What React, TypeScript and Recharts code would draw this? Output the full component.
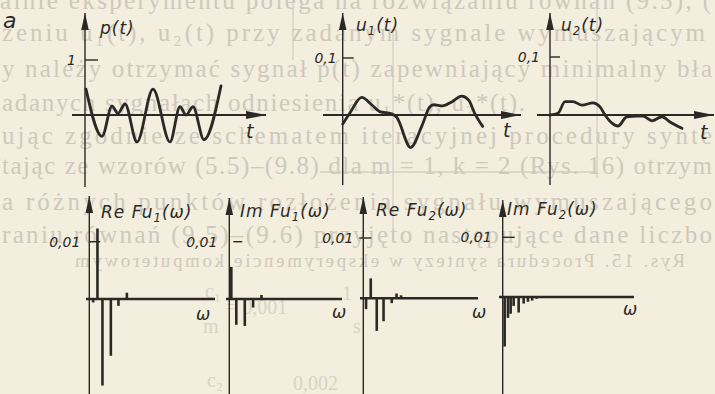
import React from 'react';
import {
  Bar,
  BarChart,
  Line,
  LineChart,
  ReferenceDot,
  ReferenceLine,
  XAxis,
  YAxis,
} from 'recharts';

// top row: time signals, t in arbitrary units (0 at the vertical axis)
const pTime = [0.1, 1.7, 2.7, 3.3, 4.0, 5.2, 6.8, 8.5, 9.5, 10.1, 10.8, 11.9, 13.6];
const pValue = [0.47, -0.39, 0.16, 0.03, 0.2, -0.49, 0.47, -0.49, 0.15, 0.0, 0.15, -0.45, 0.53];

const u1Time = [0, 0.7, 1.9, 2.9, 3.7, 4.9, 5.4, 6.8, 7.9, 8.7, 9.1, 10.0, 10.9, 11.9, 12.6, 13.2, 14.0];
const u1Value = [
  -0.016, 0.003, 0.031, 0.018, 0.006, 0.002, -0.004, -0.057, -0.02, 0.014, 0.018, 0.016, 0.023,
  0.033, 0.026, 0.003, -0.02,
];

const u2Time = [0, 0.8, 1.5, 2.3, 3.2, 4.3, 5.0, 5.5, 6.2, 6.8, 7.7, 8.7, 9.3, 10.2, 11.2, 12.0, 13.2];
const u2Value = [
  0, 0.003, 0.023, 0.023, 0.017, 0.021, 0.014, 0, -0.014, -0.019, -0.003, -0.002, -0.002, -0.01,
  -0.003, -0.012, -0.023,
];

// bottom row: spectra, omega in arbitrary units
const re1Freq = [0.37, 0.8, 1.3, 2.14, 2.9, 3.74];
const re1Value = [-0.0006, 0.0123, -0.0151, -0.0099, -0.0012, 0.0011];

const im1Freq = [0.22, 0.72, 1.57, 2.4, 3.24];
const im1Value = [0.0056, -0.0045, -0.0047, -0.0015, 0.0007];

const re2Freq = [0.27, 0.74, 1.34, 2.02, 2.84, 3.32, 3.77];
const re2Value = [-0.0018, 0.0033, -0.0054, -0.0038, -0.0008, 0.0008, 0.0005];

const im2Freq = [0.2, 0.53, 0.8, 1.1, 1.6, 2.1, 2.53, 2.95, 3.4];
const im2Value = [-0.0083, -0.0035, -0.0028, -0.0015, -0.0026, -0.0011, -0.0008, -0.0006, -0.0003];

// tick labels
const tickP = { value: 1, label: '1' };
const tickU = { value: 0.1, label: '0,1' };
const tickF = { value: 0.01, label: '0,01' };

const PAPER = '#f4eede';
const INK = '#2b2926';
const GHOST = '#cec9bd';
const FONT = '"DejaVu Sans", "Liberation Sans", sans-serif';
const SERIF = '"Liberation Serif", "DejaVu Serif", serif';

const PAD = { top: 4, right: 6, bottom: 4, left: 60 };

interface Frame {
  left: number;
  right: number;
  top: number;
  bottom: number;
  ox: number;
  oy: number;
  sx: number;
  sy: number;
}

// plot boxes in page pixels, origin where the axes cross, px per unit
const frameP: Frame = { left: 72, right: 266, top: 13, bottom: 187, ox: 85, oy: 115, sx: 10, sy: 55 };
const frameU1: Frame = { left: 323, right: 521, top: 13, bottom: 185, ox: 342.7, oy: 115, sx: 10, sy: 570 };
const frameU2: Frame = { left: 537, right: 714, top: 13, bottom: 185, ox: 550, oy: 115, sx: 10, sy: 580 };
const frameR1: Frame = { left: 86, right: 215, top: 196, bottom: 394, ox: 89.3, oy: 299, sx: 10, sy: 5730 };
const frameI1: Frame = { left: 226, right: 342, top: 198, bottom: 394, ox: 229.3, oy: 299, sx: 10, sy: 5730 };
const frameR2: Frame = { left: 360, right: 478, top: 197, bottom: 394, ox: 363.3, oy: 298.3, sx: 10, sy: 6030 };
const frameI2: Frame = { left: 499, right: 634, top: 200, bottom: 394, ox: 502.7, oy: 297, sx: 10, sy: 5970 };

function domains(f: Frame) {
  return {
    x: [(f.left - f.ox) / f.sx, (f.right - f.ox) / f.sx] as [number, number],
    y: [(f.oy - f.bottom) / f.sy, (f.oy - f.top) / f.sy] as [number, number],
  };
}

function boxStyle(f: Frame): React.CSSProperties {
  return { position: 'absolute', left: f.left - PAD.left, top: f.top - PAD.top };
}

function chartSize(f: Frame) {
  return {
    width: f.right - f.left + PAD.left + PAD.right,
    height: f.bottom - f.top + PAD.top + PAD.bottom,
  };
}

const upArrow = (props: any) => {
  const { cx, cy } = props;
  return <path d={`M${cx},${cy} L${cx - 3.8},${cy + 17} L${cx + 3.8},${cy + 17} Z`} fill={INK} />;
};

const rightArrow = (props: any) => {
  const { cx, cy } = props;
  return <path d={`M${cx},${cy} L${cx - 20},${cy - 4} L${cx - 20},${cy + 4} Z`} fill={INK} />;
};

interface TickSpec {
  value: number;
  label: string;
  from: number; // px from the vertical axis
  to: number;
  gap: number;
}

function tickLine(f: Frame, t: TickSpec) {
  return (
    <ReferenceLine
      segment={[
        { x: t.from / f.sx, y: t.value },
        { x: t.to / f.sx, y: t.value },
      ]}
      stroke={INK}
      strokeWidth={1.4}
      ifOverflow="visible"
      label={{
        value: t.label,
        position: 'left',
        offset: t.gap,
        fill: INK,
        fontSize: 14,
        fontStyle: 'italic',
        fontFamily: FONT,
      }}
    />
  );
}

function TimePlot({ frame, time, value, tick }: { frame: Frame; time: number[]; value: number[]; tick: TickSpec }) {
  const d = domains(frame);
  const size = chartSize(frame);
  const data = time.map((t, i) => ({ t, v: value[i] }));
  return (
    <div style={boxStyle(frame)}>
      <LineChart width={size.width} height={size.height} data={data} margin={PAD}>
        <XAxis type="number" dataKey="t" domain={d.x} hide allowDataOverflow />
        <YAxis type="number" domain={d.y} hide allowDataOverflow />
        <ReferenceLine x={0} stroke={INK} strokeWidth={1.4} />
        <ReferenceLine y={0} stroke={INK} strokeWidth={1.8} />
        {tickLine(frame, tick)}
        <ReferenceDot x={0} y={d.y[1]} r={0} shape={upArrow} ifOverflow="visible" />
        <ReferenceDot x={d.x[1]} y={0} r={0} shape={rightArrow} ifOverflow="visible" />
        <Line
          type="monotone"
          dataKey="v"
          stroke={INK}
          strokeWidth={2.8}
          strokeLinecap="round"
          strokeLinejoin="round"
          dot={false}
          isAnimationActive={false}
        />
      </LineChart>
    </div>
  );
}

function SpectrumPlot({ frame, freq, value, tick }: { frame: Frame; freq: number[]; value: number[]; tick: TickSpec }) {
  const d = domains(frame);
  const size = chartSize(frame);
  const data = freq.map((w, i) => ({ w, v: value[i] }));
  return (
    <div style={boxStyle(frame)}>
      <BarChart width={size.width} height={size.height} data={data} margin={PAD}>
        <XAxis type="number" dataKey="w" domain={d.x} hide allowDataOverflow />
        <YAxis type="number" domain={d.y} hide allowDataOverflow />
        <ReferenceLine x={0} stroke={INK} strokeWidth={1.4} />
        <ReferenceLine y={0} stroke={INK} strokeWidth={2.6} />
        {tickLine(frame, tick)}
        <ReferenceDot x={0} y={d.y[1]} r={0} shape={upArrow} ifOverflow="visible" />
        <Bar dataKey="v" fill={INK} barSize={2.6} isAnimationActive={false} />
      </BarChart>
    </div>
  );
}

function Title({ x, y, main, sub, tail, size = 17 }: { x: number; y: number; main: string; sub?: string; tail?: string; size?: number }) {
  return (
    <text x={x} y={y} fontFamily={FONT} fontStyle="italic" fontSize={size} fill={INK} letterSpacing={1}>
      {main}
      {sub ? (
        <tspan fontSize={size * 0.68} dy={4}>
          {sub}
        </tspan>
      ) : null}
      {tail ? <tspan dy={sub ? -4 : 0}>{tail}</tspan> : null}
    </text>
  );
}

// faint print showing through the paper
const ghostLines = [
  { text: 'ainie eksperymentu polega na rozwiązaniu równań (9.5), (', x: 0, y: 9, w: 711 },
  { text: 'zeniu u₁(t), u₂(t) przy zadanym sygnale wymuszającym', x: 2, y: 41, w: 703 },
  { text: 'y należy otrzymać sygnał p(t) zapewniający minimalny bła', x: 2, y: 77, w: 710 },
  { text: 'adanych sygnałach odniesienia u₁*(t), u₂*(t).', x: 2, y: 111, w: 523 },
  { text: 'ując zgodnie ze schematem iteracyjnej procedury synte', x: 2, y: 144, w: 710 },
  { text: 'tając ze wzorów (5.5)–(9.8) dla m = 1, k = 2 (Rys. 16) otrzym', x: 2, y: 174, w: 710 },
  { text: 'a różnych punktów rozłożenia sygnału wymuszającego', x: 2, y: 210, w: 710 },
  { text: 'raniu równań (9.5)–(9.6) przyjęto następujące dane liczbo', x: 2, y: 243, w: 710 },
];

function Ghost() {
  return (
    <svg width={715} height={394} style={{ position: 'absolute', left: 0, top: 0 }}>
      <g stroke={GHOST} strokeWidth={1.3} opacity={0.8}>
        <line x1={293} y1={0} x2={293} y2={60} />
        <line x1={393} y1={30} x2={393} y2={235} />
        <line x1={597} y1={0} x2={597} y2={178} />
        <line x1={320} y1={172} x2={597} y2={172} />
      </g>
      {ghostLines.map((l) => (
        <text
          key={l.y}
          x={l.x}
          y={l.y}
          fontFamily={SERIF}
          fontSize={25}
          fill={GHOST}
          textLength={l.w}
          lengthAdjust="spacing"
        >
          {l.text}
        </text>
      ))}
      <g transform="translate(760,0) scale(-1,1)">
        <text x={75} y={267} fontFamily={SERIF} fontSize={19} fill={GHOST} textLength={610} lengthAdjust="spacing">
          Rys. 15. Procedura syntezy w eksperymencie komputerowym
        </text>
      </g>
      <g fontFamily={SERIF} fontSize={20} fill={GHOST} opacity={0.7}>
        <text x={205} y={298}>c₁</text>
        <text x={203} y={333}>m</text>
        <text x={226} y={314}>= 0,001</text>
        <text x={353} y={333}>s</text>
        <text x={342} y={300}>1</text>
        <text x={207} y={387}>c₂</text>
        <text x={293} y={390}>0,002</text>
      </g>
    </svg>
  );
}

function Labels() {
  return (
    <svg width={715} height={394} style={{ position: 'absolute', left: 0, top: 0, pointerEvents: 'none' }}>
      <Title x={3} y={28} main="a" size={22} />
      <Title x={100} y={34} main="p(t)" />
      <Title x={356} y={31} main="u" sub="1" tail="(t)" />
      <Title x={561} y={31} main="u" sub="2" tail="(t)" />
      <Title x={246} y={138} main="t" size={19} />
      <Title x={503} y={137} main="t" size={19} />
      <Title x={700} y={139} main="t" size={19} />
      <Title x={101} y={218} main="Re Fu" sub="1" tail="(ω)" />
      <Title x={240} y={217} main="Im Fu" sub="1" tail="(ω)" />
      <Title x={376} y={216} main="Re Fu" sub="2" tail="(ω)" />
      <Title x={507} y={215} main="Im Fu" sub="2" tail="(ω)" />
      <Title x={196} y={320} main="ω" />
      <Title x={332} y={318} main="ω" />
      <Title x={472} y={318} main="ω" />
      <Title x={623} y={315} main="ω" />
    </svg>
  );
}

export default function App() {
  return (
    <div
      style={{
        position: 'absolute',
        left: 0,
        top: 0,
        width: 715,
        height: 394,
        background: PAPER,
        overflow: 'hidden',
      }}
    >
      <Ghost />
      <TimePlot frame={frameP} time={pTime} value={pValue} tick={{ ...tickP, from: 0, to: 13, gap: 9 }} />
      <TimePlot frame={frameU1} time={u1Time} value={u1Value} tick={{ ...tickU, from: 0, to: 11, gap: 6 }} />
      <TimePlot frame={frameU2} time={u2Time} value={u2Value} tick={{ ...tickU, from: 0, to: 10, gap: 10 }} />
      <SpectrumPlot frame={frameR1} freq={re1Freq} value={re1Value} tick={{ ...tickF, from: 0, to: 11, gap: 9 }} />
      <SpectrumPlot frame={frameI1} freq={im1Freq} value={im1Value} tick={{ ...tickF, from: 4, to: 13, gap: 16 }} />
      <SpectrumPlot frame={frameR2} freq={re2Freq} value={re2Value} tick={{ ...tickF, from: -4, to: 8, gap: 6 }} />
      <SpectrumPlot frame={frameI2} freq={im2Freq} value={im2Value} tick={{ ...tickF, from: 0, to: 12, gap: 11 }} />
      <Labels />
    </div>
  );
}
